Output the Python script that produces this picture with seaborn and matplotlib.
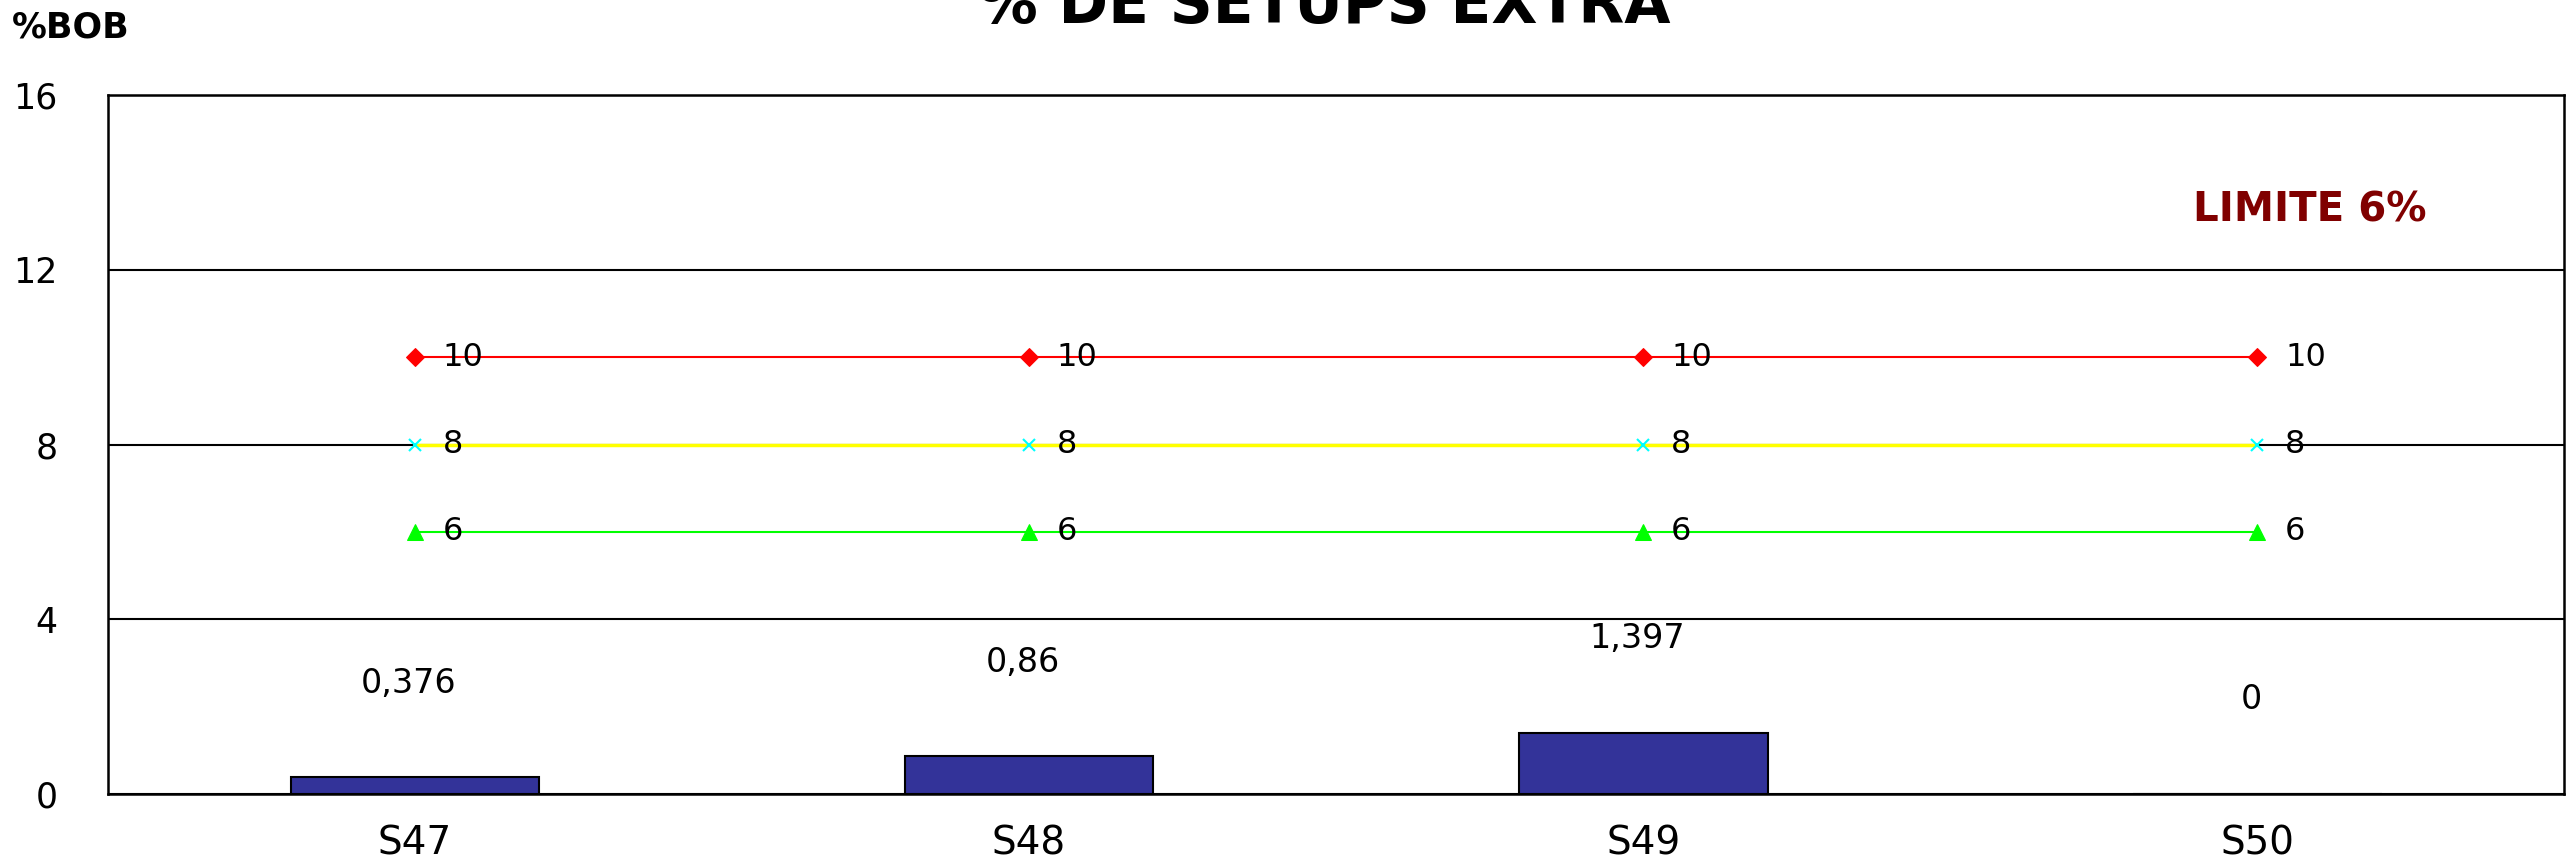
import numpy as np
import matplotlib
matplotlib.use("Agg")
import matplotlib.pyplot as plt
import seaborn as sns

weeks = ["S47", "S48", "S49", "S50"]
setups_extra = [0.376, 0.86, 1.397, 0.0]
setups_labels = ["0,376", "0,86", "1,397", "0"]
limit_red = [10, 10, 10, 10]
limit_yellow = [8, 8, 8, 8]
limit_green = [6, 6, 6, 6]
y_ticks = [0, 4, 8, 12, 16]

sns.set_style("white")
plt.rcParams['font.family'] = ['DejaVu Sans']
plt.rcParams['text.color'] = 'black'
plt.rcParams['xtick.color'] = 'black'
plt.rcParams['ytick.color'] = 'black'

fig = plt.figure(figsize=(25.67, 8.59), dpi=100)
ax = fig.add_axes([0.042, 0.076, 0.957, 0.813])

sns.barplot(x=weeks, y=setups_extra, color="#333399", edgecolor="black",
            linewidth=1.5, width=0.405, saturation=1, ax=ax, zorder=3)

pos = np.arange(len(weeks))
sns.lineplot(x=pos, y=limit_red, color="#ff0000", marker="D", markersize=9,
             markeredgecolor="#ff0000", linewidth=1.5, ax=ax, zorder=4)
sns.lineplot(x=pos, y=limit_yellow, color="#ffff00", marker="x", markersize=9,
             markeredgecolor="#00ffff", markeredgewidth=1.5, linewidth=2.5, ax=ax, zorder=4)
sns.lineplot(x=pos, y=limit_green, color="#00ff00", marker="^", markersize=11,
             markeredgecolor="#00ff00", linewidth=1.5, ax=ax, zorder=4)

for series in (limit_red, limit_yellow, limit_green):
    for i, v in enumerate(series):
        ax.annotate(str(v), (i, v), xytext=(20, 0), textcoords="offset points",
                    va="center", ha="left", fontsize=23, color="black", zorder=5)

for i, (v, lab) in enumerate(zip(setups_extra, setups_labels)):
    ax.text(i - 0.01, v + 2.15, lab, ha="center", va="center", fontsize=24,
            color="black")

ax.set_xlim(-0.5, 3.5)
ax.set_ylim(0, 16)
ax.set_yticks(y_ticks)
ax.set_yticklabels([str(t) for t in y_ticks], fontsize=25)
ax.tick_params(axis="y", direction="out", length=12, width=1.5, pad=24)
ax.tick_params(axis="x", which="major", length=0, pad=22, labelsize=28)
ax.set_xticks([0.5, 1.5, 2.5], minor=True)
ax.tick_params(axis="x", which="minor", direction="inout", length=24, width=1.5)
ax.yaxis.grid(True, color="black", linewidth=1.5)
ax.set_axisbelow(True)
for s in ax.spines.values():
    s.set_color("black")
    s.set_linewidth(1.8)

ax.text(0.8965, 0.835, "LIMITE 6%", transform=ax.transAxes, color="#800000",
        fontsize=29, fontweight="bold", ha="center", va="center")

fig.text(0.0275, 1 - 38 / 859, "%BOB", fontsize=25, fontweight="bold",
         ha="center", va="baseline")
fig.text(0.516, 1 - 23 / 859, "% DE SETUPS EXTRA", fontsize=43, fontweight="bold",
         ha="center", va="baseline")

fig.savefig("out.png", dpi=100)
